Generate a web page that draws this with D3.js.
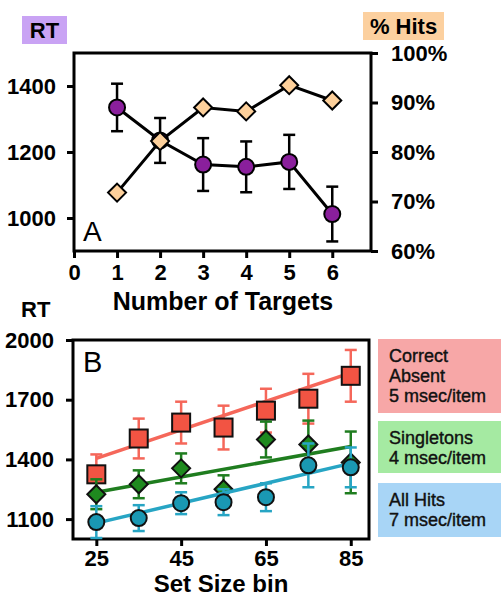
<!DOCTYPE html>
<html>
<head>
<meta charset="utf-8">
<script src="https://cdn.jsdelivr.net/npm/d3@7"></script>
<style>
  body { margin: 0; background: #fff; }
  svg text { font-family: "Liberation Sans", Arial, sans-serif; }
</style>
</head>
<body>
<div id="chart"></div>
<script>
(function(d3) {
  'use strict';

  // panel A
  var targets = [1, 2, 3, 4, 5, 6];
  var rtMean = [1335, 1235, 1162, 1155, 1170, 1012];
  var rtErr = [72, 68, 80, 77, 82, 83];
  var hitPct = [71.8, 82.2, 89.0, 88.2, 93.5, 90.4];
  var targetTicks = [0, 1, 2, 3, 4, 5, 6];
  var rtTicksA = [1000, 1200, 1400];
  var hitTicks = [60, 70, 80, 90, 100];

  // panel B
  var setSizes = [25, 35, 45, 55, 65, 75, 85];
  var absentRT = [1325, 1505, 1585, 1560, 1645, 1705, 1820];
  var absentErr = [100, 100, 105, 110, 110, 125, 130];
  var singleRT = [1225, 1275, 1355, 1250, 1500, 1475, 1385];
  var singleErr = [75, 70, 75, 70, 90, 120, 155];
  var hitsRT = [1085, 1105, 1180, 1185, 1210, 1370, 1360];
  var hitsErr = [80, 65, 55, 65, 70, 110, 100];
  var fitX = [25, 85];
  var absentFit = [1405, 1835];
  var singleFit = [1235, 1465];
  var hitsFit = [1080, 1380];
  var setTicks = [25, 45, 65, 85];
  var rtTicksB = [1100, 1400, 1700, 2000];
  var legendLines = [
    ['Correct', 'Absent', '5 msec/item'],
    ['Singletons', '4 msec/item'],
    ['All Hits', '7 msec/item']
  ];

  var width = 501;
  var height = 598;
  var intFmt = d3.format('d');

  var svg = d3.select('#chart')
    .append('svg')
    .attr('width', width)
    .attr('height', height);

  function styleAxis(g, size) {
    g.select('.domain').remove();
    g.selectAll('.tick line').attr('stroke', '#000').attr('stroke-width', 3);
    g.selectAll('.tick text')
      .attr('fill', '#000')
      .style('font-size', (size || 22) + 'px')
      .style('font-weight', 'bold');
  }

  function errorBars(g, xs, ys, es, x, y, color, w) {
    var eb = g.append('g').attr('stroke', color).attr('stroke-width', 2.5).attr('fill', 'none');
    xs.forEach(function(d, i) {
      var cx = x(d);
      var top = y(ys[i] + es[i]);
      var bot = y(ys[i] - es[i]);
      eb.append('line').attr('x1', cx).attr('x2', cx).attr('y1', top).attr('y2', bot);
      eb.append('line').attr('x1', cx - w).attr('x2', cx + w).attr('y1', top).attr('y2', top);
      eb.append('line').attr('x1', cx - w).attr('x2', cx + w).attr('y1', bot).attr('y2', bot);
    });
  }

  function diamond(r) {
    return 'M0,' + (-r) + 'L' + r + ',0L0,' + r + 'L' + (-r) + ',0Z';
  }

  // ---------- Panel A ----------
  var xA = d3.scaleLinear().domain([0, 6.9]).range([74, 371]);
  var yRT = d3.scaleLinear().domain([900, 1500]).range([251, 53]);
  var yHit = d3.scaleLinear().domain([60, 100]).range([251, 53]);

  var gA = svg.append('g');

  gA.append('g')
    .attr('transform', 'translate(74,0)')
    .call(d3.axisLeft(yRT).tickValues(rtTicksA).tickSize(7).tickPadding(11).tickFormat(intFmt))
    .call(styleAxis);

  gA.append('g')
    .attr('transform', 'translate(371,0)')
    .call(d3.axisRight(yHit).tickValues(hitTicks).tickSize(7).tickPadding(13)
      .tickFormat(function(d) { return d + '%'; }))
    .call(styleAxis);

  gA.append('g')
    .attr('transform', 'translate(0,251)')
    .call(d3.axisBottom(xA).tickValues(targetTicks).tickSize(7).tickPadding(6).tickFormat(intFmt))
    .call(styleAxis);

  gA.append('rect')
    .attr('x', 74).attr('y', 53)
    .attr('width', 297).attr('height', 198)
    .attr('fill', 'none').attr('stroke', '#000').attr('stroke-width', 3);

  errorBars(gA, targets, rtMean, rtErr, xA, yRT, '#000', 6);

  var lineRT = d3.line()
    .x(function(d, i) { return xA(targets[i]); })
    .y(function(d) { return yRT(d); });
  var lineHit = d3.line()
    .x(function(d, i) { return xA(targets[i]); })
    .y(function(d) { return yHit(d); });

  gA.append('path').attr('d', lineRT(rtMean))
    .attr('fill', 'none').attr('stroke', '#000').attr('stroke-width', 3);
  gA.append('path').attr('d', lineHit(hitPct))
    .attr('fill', 'none').attr('stroke', '#000').attr('stroke-width', 3);

  gA.selectAll('.rt-dot')
    .data(rtMean)
    .enter()
    .append('circle')
    .attr('class', 'rt-dot')
    .attr('cx', function(d, i) { return xA(targets[i]); })
    .attr('cy', function(d) { return yRT(d); })
    .attr('r', 8)
    .attr('fill', '#8a1f9c')
    .attr('stroke', '#000')
    .attr('stroke-width', 2);

  gA.selectAll('.hit-dot')
    .data(hitPct)
    .enter()
    .append('path')
    .attr('class', 'hit-dot')
    .attr('d', diamond(9))
    .attr('transform', function(d, i) {
      return 'translate(' + xA(targets[i]) + ',' + yHit(d) + ')';
    })
    .attr('fill', '#fdd09b')
    .attr('stroke', '#000')
    .attr('stroke-width', 2);

  gA.append('text')
    .attr('x', 83).attr('y', 241)
    .style('font-size', '28px')
    .text('A');

  // axis titles, panel A
  gA.append('rect').attr('x', 22).attr('y', 16).attr('width', 45).attr('height', 28).attr('fill', '#c9a3f4');
  gA.append('text').attr('x', 44.5).attr('y', 38)
    .attr('text-anchor', 'middle')
    .style('font-size', '22px').style('font-weight', 'bold')
    .text('RT');

  gA.append('rect').attr('x', 363).attr('y', 12).attr('width', 81).attr('height', 28).attr('fill', '#fcd09f');
  gA.append('text').attr('x', 403.5).attr('y', 34)
    .attr('text-anchor', 'middle')
    .style('font-size', '22px').style('font-weight', 'bold')
    .text('% Hits');

  gA.append('text').attr('x', 223).attr('y', 310)
    .attr('text-anchor', 'middle')
    .style('font-size', '25px').style('font-weight', 'bold')
    .text('Number of Targets');

  // ---------- Panel B ----------
  var xB = d3.scaleLinear().domain([19.5, 89.3]).range([73, 369]);
  var yB = d3.scaleLinear().domain([1000, 2000]).range([539, 340]);

  var gB = svg.append('g');

  gB.append('g')
    .attr('transform', 'translate(73,0)')
    .call(d3.axisLeft(yB).tickValues(rtTicksB).tickSize(7).tickPadding(12).tickFormat(intFmt))
    .call(styleAxis);

  gB.append('g')
    .attr('transform', 'translate(0,539)')
    .call(d3.axisBottom(xB).tickValues(setTicks).tickSize(7).tickPadding(4).tickFormat(intFmt))
    .call(styleAxis);

  gB.append('rect')
    .attr('x', 73).attr('y', 340)
    .attr('width', 296).attr('height', 199)
    .attr('fill', 'none').attr('stroke', '#000').attr('stroke-width', 3);

  var series = [
    { rt: absentRT, err: absentErr, fit: absentFit, line: '#f5675a', mark: '#f25443', shape: 'square' },
    { rt: singleRT, err: singleErr, fit: singleFit, line: '#1f7d1f', mark: '#1f8a1f', shape: 'diamond' },
    { rt: hitsRT, err: hitsErr, fit: hitsFit, line: '#27a5c4', mark: '#1a98b3', shape: 'circle' }
  ];

  var fitLine = d3.line()
    .x(function(d, i) { return xB(fitX[i]); })
    .y(function(d) { return yB(d); });

  series.forEach(function(s) {
    var g = gB.append('g');
    errorBars(g, setSizes, s.rt, s.err, xB, yB, s.line, 6);
    g.append('path').attr('d', fitLine(s.fit))
      .attr('fill', 'none').attr('stroke', s.line).attr('stroke-width', 3.5);

    var marks = g.selectAll('.mark')
      .data(s.rt)
      .enter();
    if (s.shape === 'square') {
      marks.append('rect')
        .attr('x', function(d, i) { return xB(setSizes[i]) - 9; })
        .attr('y', function(d) { return yB(d) - 9; })
        .attr('width', 18).attr('height', 18)
        .attr('fill', s.mark).attr('stroke', '#111').attr('stroke-width', 2);
    } else if (s.shape === 'diamond') {
      marks.append('path')
        .attr('d', diamond(9))
        .attr('transform', function(d, i) {
          return 'translate(' + xB(setSizes[i]) + ',' + yB(d) + ')';
        })
        .attr('fill', s.mark).attr('stroke', '#111').attr('stroke-width', 2);
    } else {
      marks.append('circle')
        .attr('cx', function(d, i) { return xB(setSizes[i]); })
        .attr('cy', function(d) { return yB(d); })
        .attr('r', 8)
        .attr('fill', s.mark).attr('stroke', '#111').attr('stroke-width', 2);
    }
  });

  gB.append('text')
    .attr('x', 83).attr('y', 372)
    .style('font-size', '29px')
    .text('B');

  gB.append('text').attr('x', 21).attr('y', 317)
    .style('font-size', '22px').style('font-weight', 'bold')
    .text('RT');

  gB.append('text').attr('x', 221).attr('y', 592)
    .attr('text-anchor', 'middle')
    .style('font-size', '24px').style('font-weight', 'bold')
    .text('Set Size bin');

  // legend boxes
  var boxes = [
    { y: 339, h: 74, fill: '#f7a7a7' },
    { y: 421, h: 52, fill: '#a5eaa2' },
    { y: 483, h: 54, fill: '#a8d5f6' }
  ];

  var legend = gB.selectAll('.legend')
    .data(legendLines)
    .enter()
    .append('g')
    .attr('class', 'legend')
    .attr('transform', function(d, i) { return 'translate(378,' + boxes[i].y + ')'; });

  legend.append('rect')
    .attr('width', 123)
    .attr('height', function(d, i) { return boxes[i].h; })
    .attr('fill', function(d, i) { return boxes[i].fill; });

  legend.each(function(lines) {
    var g = d3.select(this);
    lines.forEach(function(t, j) {
      g.append('text')
        .attr('x', 11)
        .attr('y', 23 + j * 20)
        .style('font-size', '18px')
        .attr('fill', '#111')
        .attr('stroke', '#111')
        .attr('stroke-width', 0.4)
        .text(t);
    });
  });

})(window.d3);
</script>
</body>
</html>
